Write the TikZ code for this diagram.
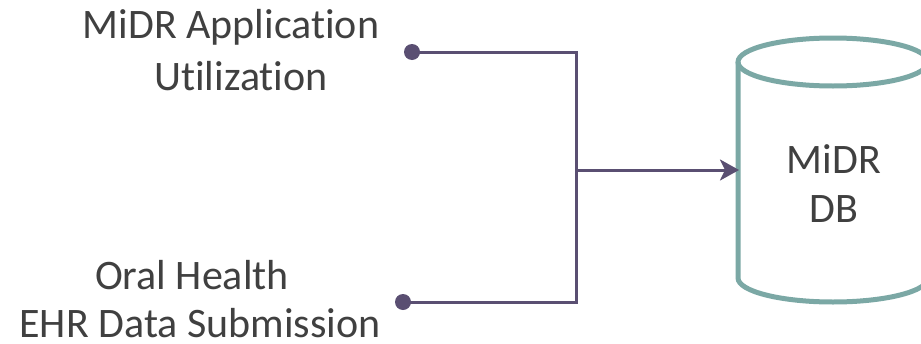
\documentclass[tikz,border=0pt]{standalone}
\usepackage{fontspec}
\setmainfont{Carlito}[Ligatures={NoCommon,NoContextual}]
\usetikzlibrary{arrows.meta}
\definecolor{linec}{HTML}{5A4F72}
\definecolor{tealc}{HTML}{7BA8A5}
\definecolor{textc}{HTML}{404040}
\begin{document}
\begin{tikzpicture}[x=1pt,y=-1pt,
  lbl/.style={font=\fontsize{42}{50}\selectfont, text=textc, inner sep=0pt, anchor=base, text depth=0pt},
  conn/.style={draw=linec, line width=3pt},
  dotc/.style={circle, fill=linec, inner sep=0pt, minimum size=16pt},
  tip/.style={-{Stealth[length=19pt,width=21pt,inset=5pt]}}]
\useasboundingbox (0,0) rectangle (921,343);
% labels
\node[lbl] (t1) at (231,38) {MiDR Application};
\node[lbl] (t2) at (241,90) {Utilization};
\node[lbl] (t3) at (192,289) {Oral Health};
\node[lbl] (t4) at (200,337) {EHR Data Submission};
% dots and junctions
\node[dotc] (d1) at (412,52) {};
\node[dotc] (d2) at (403,302) {};
\coordinate (j1) at (576,52);
\coordinate (j2) at (576,302);
\coordinate (jm) at (576,170);
\coordinate (db) at (739,170);
% cylinder (right side runs past the page edge, as in the reference)
\begin{scope}
\clip (0,0) rectangle (921,343);
\draw[draw=tealc, line width=5pt]
  (738,62) -- (738,278) arc[start angle=180, end angle=360, x radius=95, y radius=-24]
  -- (928,62);
\draw[draw=tealc, line width=5pt] (833,62) ellipse[x radius=95, y radius=24];
\end{scope}
\node[lbl] (m1) at (834,173) {MiDR};
\node[lbl] (m2) at (834,222) {DB};
% connectors
\draw[conn, line join=miter] (d1.center) -- (j1) -- (j2) -- (d2.center);
\draw[conn, tip] (jm) -- (db);
\end{tikzpicture}
\end{document}
